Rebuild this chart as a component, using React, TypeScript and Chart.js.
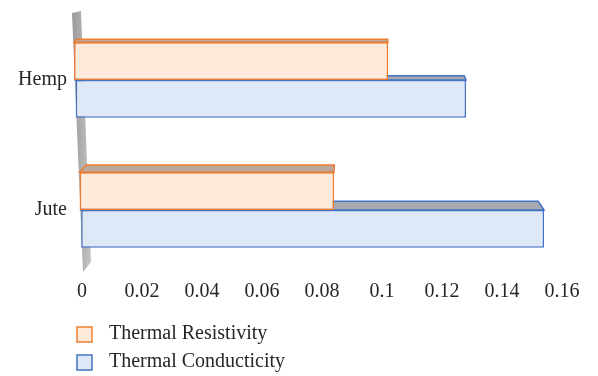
import { useEffect, useRef } from "react";
import { Chart, registerables } from "chart.js";

Chart.register(...registerables);

const categories = ["Hemp", "Jute"];
const seriesNames = ["Thermal Resistivity", "Thermal Conducticity"];
const resistivity = [0.102, 0.084];
const conductivity = [0.128, 0.154];
const xTickValues = [0, 0.02, 0.04, 0.06, 0.08, 0.1, 0.12, 0.14, 0.16];

const FONT = "'Liberation Serif', 'Times New Roman', serif";
const TEXT = "#262626";
const fills = ["#FDEADA", "#DEE8F6"];
const strokes = ["#ED7D31", "#4472C4"];
const topFills = ["#BBA89C", "#A6A9AE"];

const wallLeftAt = (area: any, y: number) => area.left - 10 + (y - area.top + 2) * 0.0425;
const depthAt = (area: any, y: number) => 2 + 0.034 * (y - area.top);

const threeD = {
  id: "threeD",
  beforeDatasetsDraw(chart: any) {
    const { ctx, chartArea: a } = chart;
    // slanted wall
    ctx.save();
    const g = ctx.createLinearGradient(a.left - 10, 0, a.left + 9, 0);
    g.addColorStop(0, "#9a9a9a");
    g.addColorStop(1, "#c4c4c4");
    ctx.fillStyle = g;
    ctx.beginPath();
    ctx.moveTo(a.left - 10, a.top - 2);
    ctx.lineTo(a.left - 1, a.top - 4);
    ctx.lineTo(a.left + 9, a.bottom - 13);
    ctx.lineTo(a.left + 1, a.bottom - 3);
    ctx.closePath();
    ctx.fill();
    ctx.restore();

    const vp = a.left + 261;
    const k = 0.00333;
    chart.data.datasets.forEach((ds: any, di: number) => {
      const meta = chart.getDatasetMeta(di);
      meta.data.forEach((el: any) => {
        el.base = wallLeftAt(a, el.y);
        const top = el.y - el.height / 2;
        const d = depthAt(a, top);
        const x0 = el.base;
        const x1 = el.x;
        ctx.save();
        ctx.beginPath();
        ctx.moveTo(x0, top);
        ctx.lineTo(x0 + (vp - x0) * k * d, top - d);
        ctx.lineTo(x1 + (vp - x1) * k * d, top - d);
        ctx.lineTo(x1, top);
        ctx.closePath();
        ctx.fillStyle = topFills[di];
        ctx.fill();
        ctx.lineWidth = 1.5;
        ctx.strokeStyle = strokes[di];
        ctx.stroke();
        ctx.restore();
      });
    });
  },
};

const legendPlugin = {
  id: "vlegend",
  afterDraw(chart: any) {
    const { ctx, chartArea: a } = chart;
    ctx.save();
    chart.data.datasets.forEach((ds: any, i: number) => {
      const bx = a.left - 5;
      const by = a.bottom + 52 + i * 28;
      ctx.fillStyle = ds.backgroundColor;
      ctx.fillRect(bx, by, 15, 15);
      ctx.lineWidth = 1.5;
      ctx.strokeStyle = ds.borderColor;
      ctx.strokeRect(bx, by, 15, 15);
      ctx.fillStyle = TEXT;
      ctx.font = `20px ${FONT}`;
      ctx.textBaseline = "middle";
      ctx.textAlign = "left";
      ctx.fillText(ds.label, bx + 32, by + 7);
    });
    ctx.restore();
  },
};

export default function App() {
  const ref = useRef<HTMLCanvasElement>(null);
  useEffect(() => {
    if (!ref.current) return;
    const chart = new Chart(ref.current, {
      type: "bar",
      data: {
        labels: categories,
        datasets: [
          {
            label: seriesNames[0],
            data: resistivity,
            backgroundColor: fills[0],
            borderColor: strokes[0],
            borderWidth: 1.5,
            borderSkipped: false,
            clip: false,
          },
          {
            label: seriesNames[1],
            data: conductivity,
            backgroundColor: fills[1],
            borderColor: strokes[1],
            borderWidth: 1.5,
            borderSkipped: false,
            clip: false,
          },
        ],
      },
      options: {
        indexAxis: "y",
        animation: false,
        responsive: false,
        maintainAspectRatio: false,
        datasets: { bar: { categoryPercentage: 0.58, barPercentage: 1 } },
        layout: { padding: { top: 15, right: 36, left: 0, bottom: 0 } },
        plugins: { legend: { display: false }, tooltip: { enabled: false } },
        scales: {
          x: {
            type: "linear",
            min: 0,
            max: 0.16,
            afterBuildTicks: (s: any) => {
              s.ticks = xTickValues.map((v) => ({ value: v }));
            },
            afterFit: (s: any) => {
              s.height = 101;
            },
            grid: { display: false, drawTicks: false },
            border: { display: false },
            ticks: {
              padding: 5,
              color: TEXT,
              font: { family: FONT, size: 20 },
              maxRotation: 0,
              autoSkip: false,
              callback: (v: any) => String(Number(Number(v).toFixed(2))),
            },
          },
          y: {
            afterFit: (s: any) => {
              s.width = 82;
              s.paddingTop = 0;
              s.paddingBottom = 0;
            },
            grid: { display: false, drawTicks: false },
            border: { display: false },
            ticks: {
              padding: 15,
              color: TEXT,
              font: { family: FONT, size: 20 },
            },
          },
        },
      },
      plugins: [threeD, legendPlugin],
    });
    return () => chart.destroy();
  }, []);
  return (
    <div style={{ position: "fixed", left: 0, top: 0, width: 598, height: 376, background: "#fff" }}>
      <canvas ref={ref} width={598} height={376} style={{ width: 598, height: 376, display: "block" }} />
    </div>
  );
}
